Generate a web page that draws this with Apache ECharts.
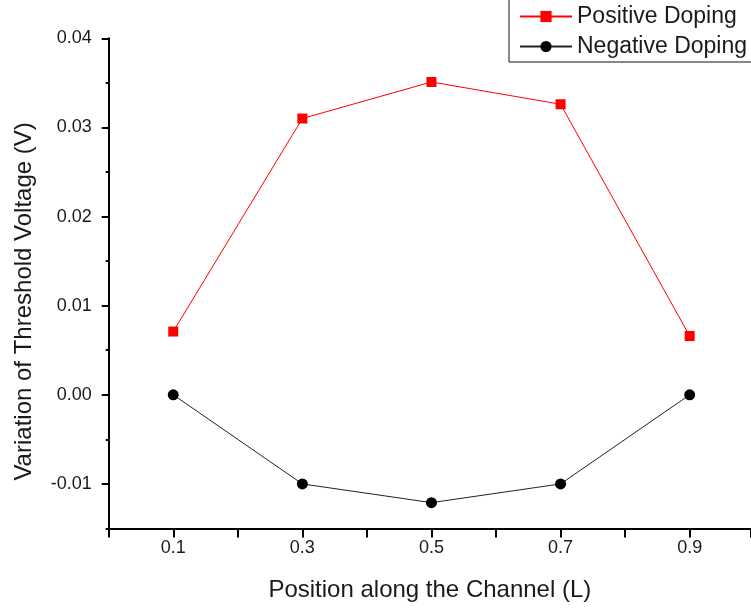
<!DOCTYPE html>
<html>
<head>
<meta charset="utf-8">
<script src="https://cdn.jsdelivr.net/npm/echarts@6/dist/echarts.min.js"></script>
<style>html,body{margin:0;padding:0;background:#fff;}#c{width:751px;height:610px;}</style>
</head>
<body>
<div id="c"></div>
<script>
var positions = [0.1, 0.3, 0.5, 0.7, 0.9];
var positiveDoping = [0.0071, 0.0310, 0.0351, 0.0326, 0.0066];
var negativeDoping = [0.0000, -0.0100, -0.0121, -0.0100, 0.0000];
var seriesNames = ['Positive Doping', 'Negative Doping'];
var xTitle = 'Position along the Channel (L)';
var yTitle = 'Variation of Threshold Voltage (V)';

var FONT = '"Liberation Sans", Arial, sans-serif';
var TXT = '#1a1a1a';

function pairs(xs, ys) { return xs.map(function (x, i) { return [x, ys[i]]; }); }

var chart = echarts.init(document.getElementById('c'), null, { renderer: 'canvas' });
chart.setOption({
  animation: false,
  backgroundColor: '#fff',
  textStyle: { fontFamily: FONT, color: TXT },
  grid: { left: 108.7, top: 38.3, bottom: 81.5, right: 0, containLabel: false, outerBoundsMode: 'none' },
  legend: {
    orient: 'vertical',
    left: 509, top: -1,
    padding: [6, 8, 4, 10],
    itemGap: 7,
    itemWidth: 52,
    itemHeight: 14,
    borderColor: '#111',
    borderWidth: 1,
    borderRadius: 0,
    backgroundColor: '#fff',
    textStyle: { fontFamily: FONT, fontSize: 23, color: TXT },
    data: seriesNames
  },
  xAxis: {
    type: 'value',
    min: 0, max: 0.995, interval: 0.1,
    name: xTitle,
    nameLocation: 'middle',
    nameGap: 50,
    nameTextStyle: { fontFamily: FONT, fontSize: 24, color: TXT },
    axisLine: { show: true, onZero: false, lineStyle: { color: '#000', width: 2 } },
    axisTick: { show: true, length: 9, lineStyle: { color: '#000', width: 2 } },
    splitLine: { show: false },
    axisLabel: {
      fontFamily: FONT, fontSize: 18, color: TXT, margin: 11,
      formatter: function (v) {
        var k = Math.round(v * 10);
        return (Math.abs(v * 10 - k) < 1e-6 && k % 2 === 1) ? v.toFixed(1) : '';
      }
    }
  },
  yAxis: [{
    type: 'value',
    min: -0.015, max: 0.04, splitNumber: 5,
    name: yTitle,
    nameLocation: 'middle',
    nameGap: 72,
    nameTextStyle: { fontFamily: FONT, fontSize: 24, color: TXT, padding: [0, 36, 0, 0] },
    axisLine: { show: true, onZero: false, lineStyle: { color: '#000', width: 2 } },
    axisTick: { show: true, length: 7, lineStyle: { color: '#000', width: 2 } },
    splitLine: { show: false },
    axisLabel: {
      fontFamily: FONT, fontSize: 18, color: TXT, margin: 17,
      showMinLabel: false, showMaxLabel: true,
      formatter: function (v) {
        var k = Math.round(v * 100);
        return Math.abs(v * 100 - k) < 1e-6 ? v.toFixed(2) : '';
      }
    }
  }, {
    type: 'value',
    position: 'left',
    min: -0.015, max: 0.04, interval: 0.005,
    alignTicks: false,
    axisLine: { show: false },
    axisTick: { show: true, length: 3, lineStyle: { color: '#000', width: 2 } },
    axisLabel: { show: false },
    splitLine: { show: false }
  }],
  series: [{
    name: seriesNames[0],
    type: 'line',
    yAxisIndex: 0,
    data: pairs(positions, positiveDoping),
    symbol: 'rect',
    symbolSize: 10,
    lineStyle: { color: '#ff0000', width: 1 },
    itemStyle: { color: '#ff0000' },
    z: 3
  }, {
    name: seriesNames[1],
    type: 'line',
    yAxisIndex: 0,
    data: pairs(positions, negativeDoping),
    symbol: 'circle',
    symbolSize: 11,
    lineStyle: { color: '#222', width: 1 },
    itemStyle: { color: '#000' },
    z: 3
  }]
});
</script>
</body>
</html>
